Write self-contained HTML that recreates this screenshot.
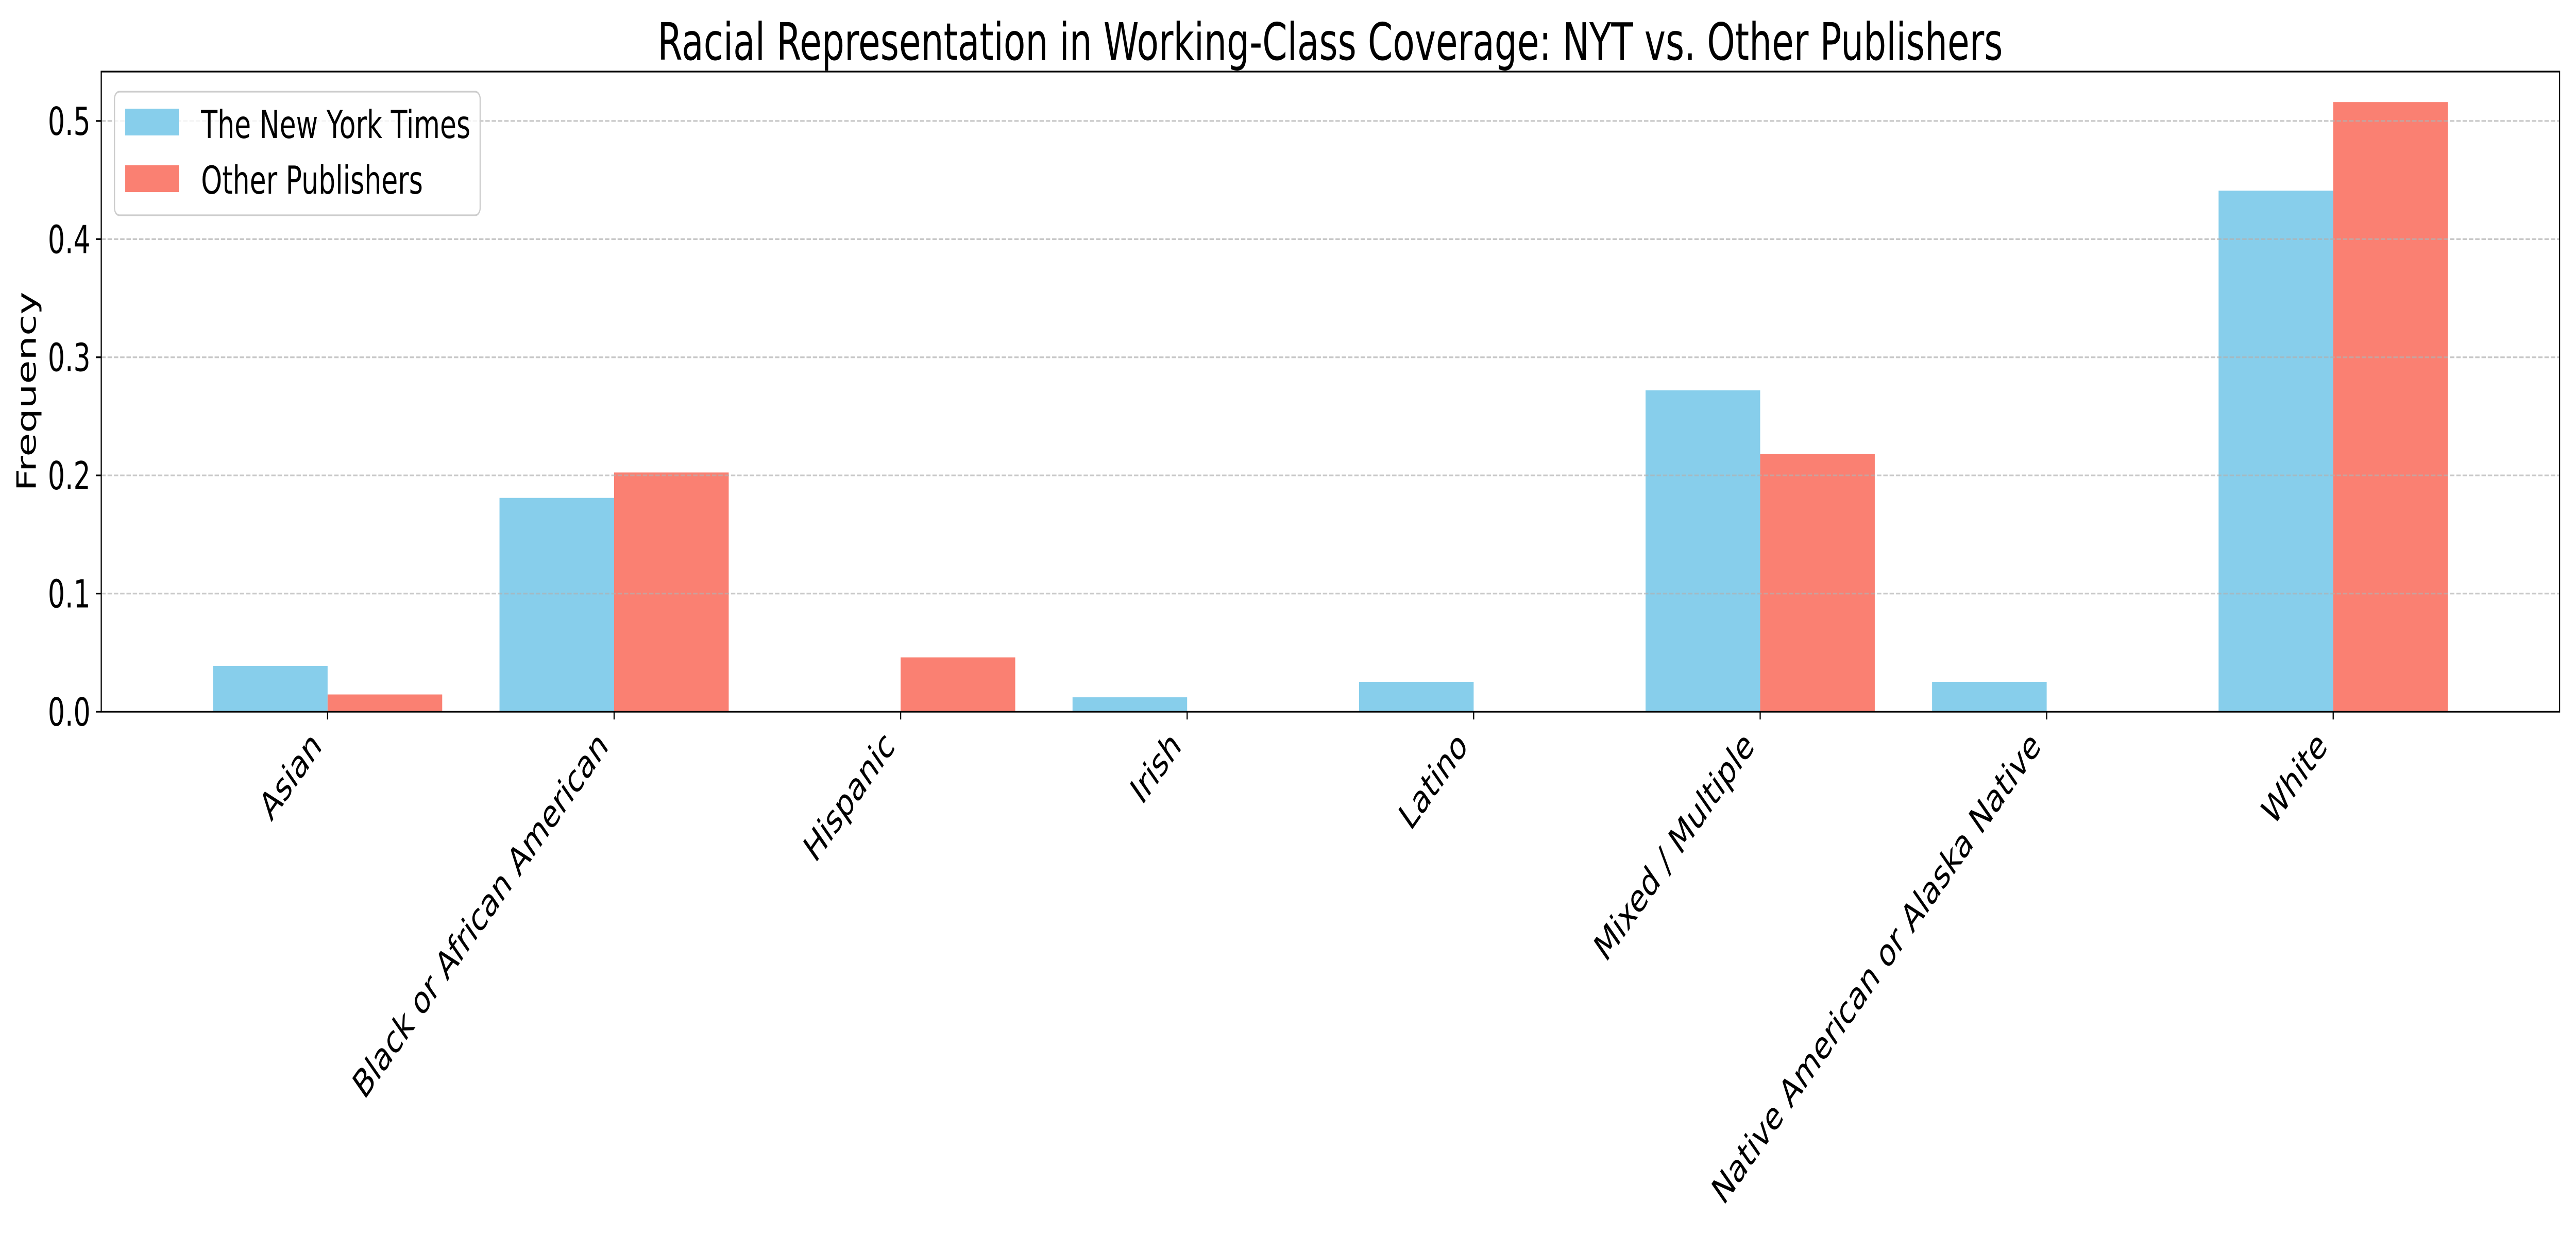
<!DOCTYPE html>
<html>
<head>
<meta charset="utf-8">
<meta name="viewport" content="width=7200, initial-scale=1">
<style>
html,body{margin:0;padding:0;background:#fff;overflow:hidden;width:100vw;height:100vh;}
svg{display:block;width:100vw;height:100vh;}
text{font-family:"DejaVu Sans","Liberation Sans",sans-serif;fill:#000;}
</style>
</head>
<body>
<svg id="chart" xmlns="http://www.w3.org/2000/svg" viewBox="0 0 7200 2400" preserveAspectRatio="none">
  <rect x="0" y="0" width="7200" height="2400" fill="#fff"/>
  <text x="3718" y="116" font-size="100" text-anchor="middle">Racial Representation in Working-Class Coverage: NYT vs. Other Publishers</text>
  <g id="bars"></g>
  <g id="grid"></g>
  <g id="axes"></g>
  <text transform="translate(100,760) rotate(-90)" font-size="75" text-anchor="middle">Frequency</text>
  <g>
    <rect x="320" y="178" width="1022" height="240" rx="14" ry="14" fill="#fff" fill-opacity="0.8" stroke="#cccccc" stroke-width="3.3"/>
    <rect x="350" y="211" width="150" height="52" fill="#87CEEB"/>
    <text x="562" y="268" font-size="75">The New York Times</text>
    <rect x="350" y="321" width="150" height="52" fill="#FA8072"/>
    <text x="562" y="376" font-size="75">Other Publishers</text>
  </g>
</svg>
<script>
const categories = ["Asian","Black or African American","Hispanic","Irish","Latino","Mixed / Multiple","Native American or Alaska Native","White"];
const nytValues = [0.0388,0.181,0,0.0122,0.0253,0.272,0.0253,0.441];
const otherValues = [0.0146,0.2025,0.046,0,0,0.218,0,0.516];
const yTicks = [0.0,0.1,0.2,0.3,0.4,0.5];
const yTickLabels = ["0.0","0.1","0.2","0.3","0.4","0.5"];

const NS = "http://www.w3.org/2000/svg";
const plotL = 283, plotR = 7154, plotT = 139, plotB = 1382;
const barW = 0.4;
const n = categories.length;
const xMin = -barW - 0.05*(n - 1 + 2*barW), xMax = (n - 1) + barW + 0.05*(n - 1 + 2*barW);
const allVals = nytValues.concat(otherValues);
const yMax = Math.max.apply(null, allVals) * 1.05;
function xs(v){ return plotL + (v - xMin) / (xMax - xMin) * (plotR - plotL); }
function ys(v){ return plotB - v / yMax * (plotB - plotT); }
function mk(tag, attrs){ const e = document.createElementNS(NS, tag); for (const k in attrs) e.setAttribute(k, attrs[k]); return e; }

const barsG = document.getElementById('bars');
const gridG = document.getElementById('grid');
const axesG = document.getElementById('axes');

categories.forEach(function(c, i){
  const b1 = mk('rect', {x: xs(i - barW), y: ys(nytValues[i]), width: xs(i) - xs(i - barW), height: plotB - ys(nytValues[i]), fill: '#87CEEB'});
  
  
  barsG.appendChild(b1);
  const b2 = mk('rect', {x: xs(i), y: ys(otherValues[i]), width: xs(i + barW) - xs(i), height: plotB - ys(otherValues[i]), fill: '#FA8072'});
  
  
  barsG.appendChild(b2);
});

yTicks.forEach(function(t, i){
  const y = ys(t);
  if (t > 0) {
    const g = mk('line', {x1: plotL, x2: plotR, y1: y, y2: y, stroke: '#b0b0b0', 'stroke-opacity': 0.7, 'stroke-width': 3.3, 'stroke-dasharray': '12.3 5.3'});
    
    
    gridG.appendChild(g);
  }
  const tk = mk('line', {x1: plotL - 15, x2: plotL, y1: y, y2: y, stroke: '#000', 'stroke-width': 3.3});
  
  
  axesG.appendChild(tk);
  const lb = mk('text', {x: plotL - 30, y: y + 27, 'font-size': 75, 'text-anchor': 'end'});
  lb.textContent = yTickLabels[i];
  
  
  axesG.appendChild(lb);
});

categories.forEach(function(c, i){
  const x = xs(i);
  const tk = mk('line', {x1: x, x2: x, y1: plotB, y2: plotB + 15, stroke: '#000', 'stroke-width': 3.3});
  
  
  axesG.appendChild(tk);
  const px = x - 13, py = plotB + 30 + 40;
  const lb = mk('text', {transform: 'translate(' + px + ',' + py + ') rotate(-45)', 'font-size': 75, 'text-anchor': 'end'});
  lb.textContent = c;
  
  
  axesG.appendChild(lb);
});

const frame = mk('rect', {x: plotL, y: plotT, width: plotR - plotL, height: plotB - plotT, fill: 'none', stroke: '#000', 'stroke-width': 3.3});


axesG.appendChild(frame);
</script>
</body>
</html>
